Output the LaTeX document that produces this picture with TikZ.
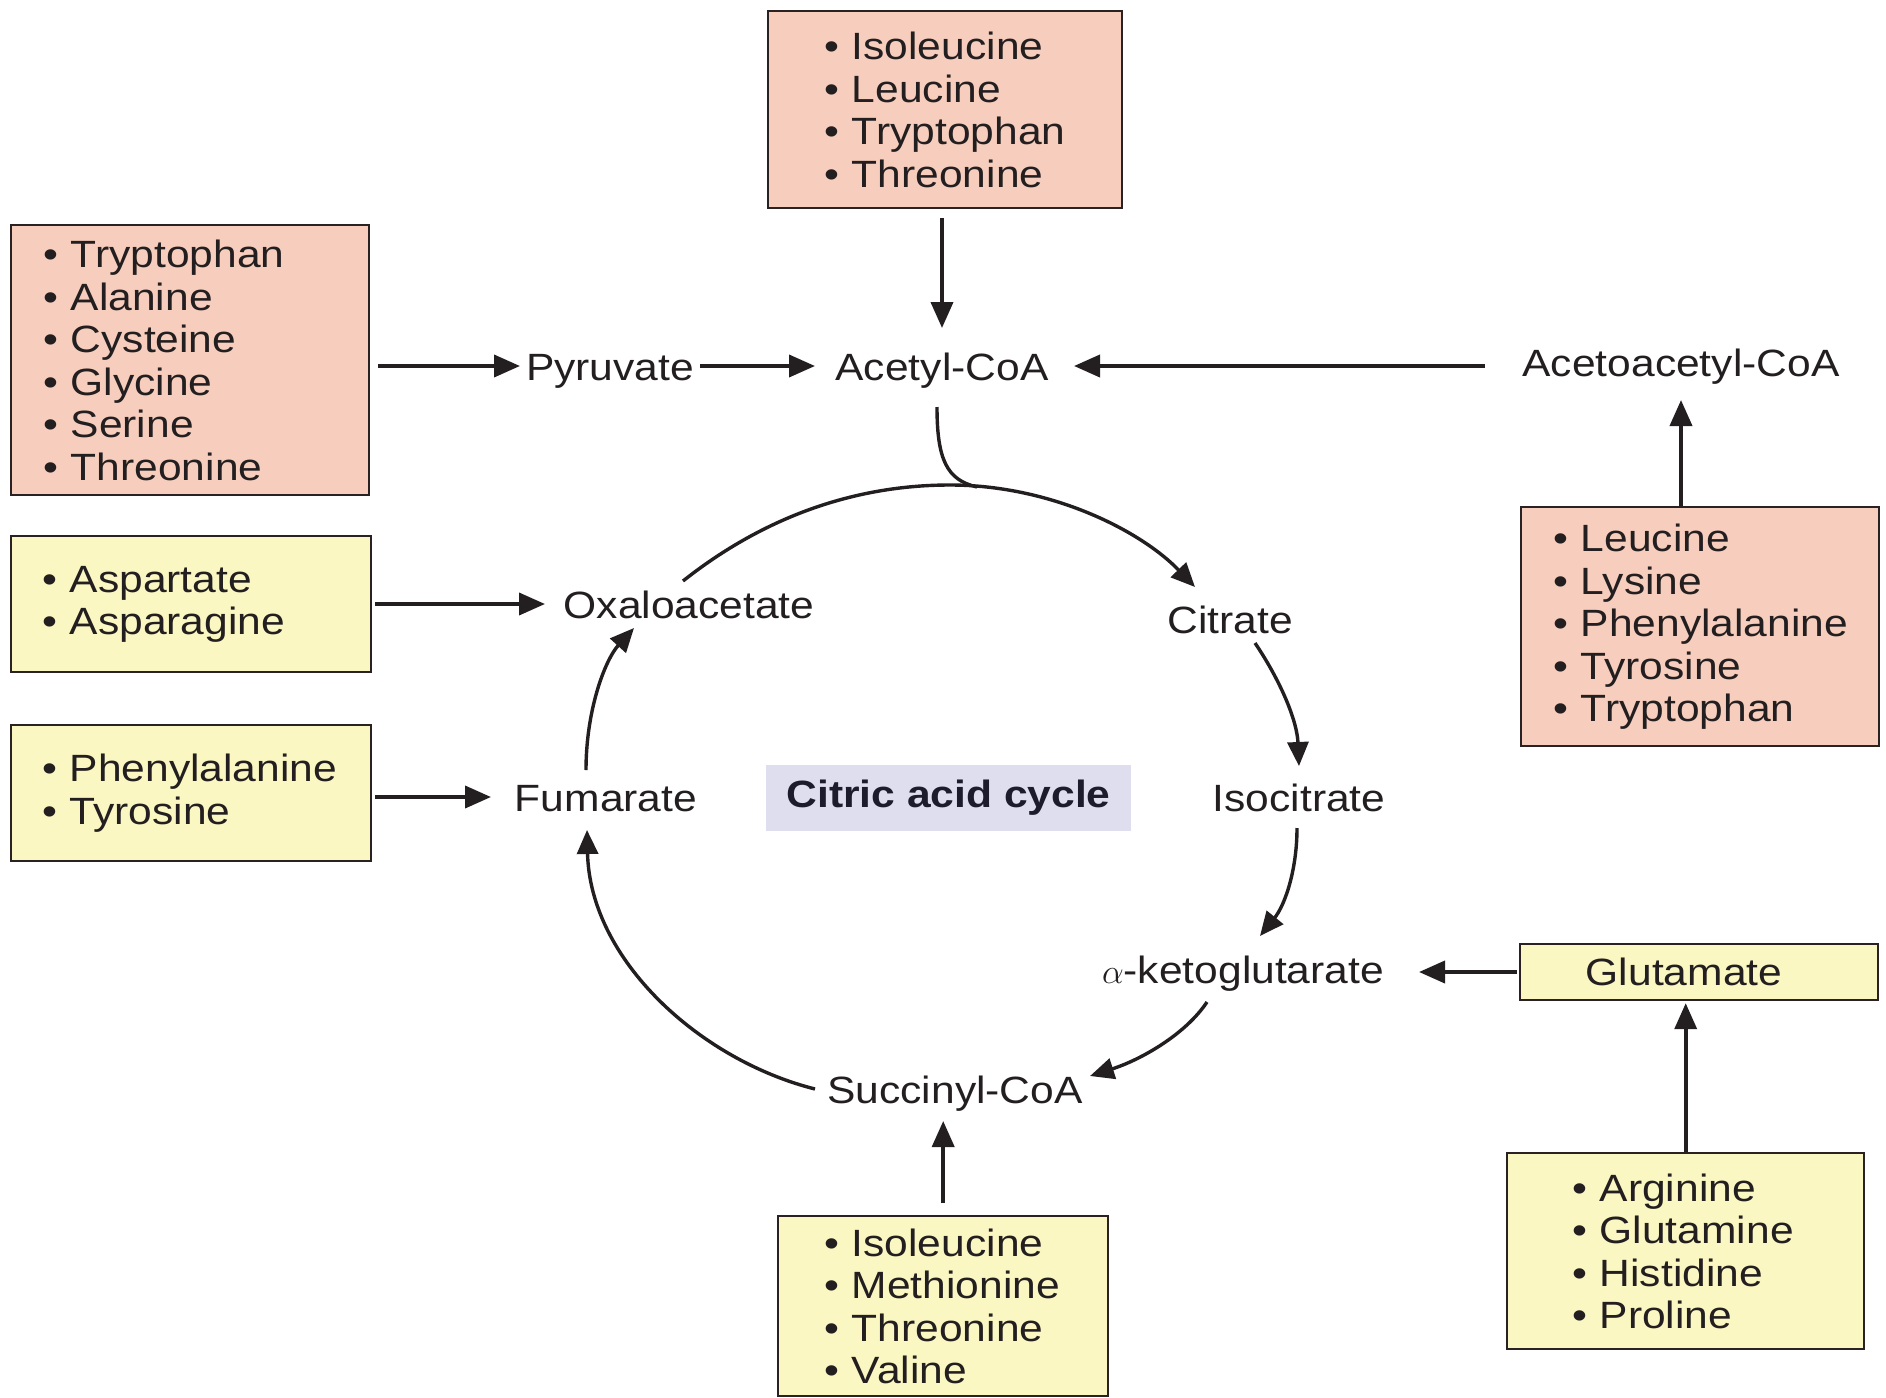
\documentclass[tikz,border=0pt]{standalone}
\usepackage{fontspec}
\setmainfont{Liberation Sans}[FakeStretch=1.12]
\usetikzlibrary{arrows.meta,calc}
\definecolor{pinkfill}{HTML}{F7CEBD}
\definecolor{yellowfill}{HTML}{FBF7C2}
\definecolor{lavender}{HTML}{DEDEEE}
\definecolor{edge}{HTML}{2A2222}
\definecolor{txt}{HTML}{231F20}
\definecolor{navy}{HTML}{1C1C2C}
\begin{document}
\begin{tikzpicture}[x=0.5pt,y=-0.5pt,
  font=\fontsize{19}{21.25}\selectfont,
  lbl/.style={inner sep=0pt, text=txt, text height=14pt, text depth=4pt},
  listbox/.style={draw=edge, line width=1.2pt, inner sep=0pt, anchor=north west, align=left, text=txt},
  pinkbox/.style={listbox, fill=pinkfill},
  yelbox/.style={listbox, fill=yellowfill},
  arr/.style={line width=1.9pt, draw=txt, -{Triangle[length=13pt,width=11pt]}},
  cyc/.style={line width=1.7pt, draw=txt, -{Triangle[length=12pt,width=10.5pt]}},
  plain/.style={line width=1.7pt, draw=txt}
]
\useasboundingbox (0,0) rectangle (1886,1398);

% boxes
\node[pinkbox, text width=177pt, minimum height=98.5pt] (topbox) at (767,10)
  {\leftskip=28pt • Isoleucine\\• Leucine\\• Tryptophan\\• Threonine\par};
\node[pinkbox, text width=179pt, minimum height=135pt] (leftpink) at (10,224)
  {\leftskip=16pt • Tryptophan\\• Alanine\\• Cysteine\\• Glycine\\• Serine\\• Threonine\par};
\node[pinkbox, text width=179pt, minimum height=119.5pt] (rightpink) at (1520,506)
  {\leftskip=16pt • Leucine\\• Lysine\\• Phenylalanine\\• Tyrosine\\• Tryptophan\par};
\node[yelbox, text width=180pt, minimum height=68pt] (aspbox) at (10,535)
  {\leftskip=15.5pt • Aspartate\\• Asparagine\par};
\node[yelbox, text width=180pt, minimum height=68pt] (phebox) at (10,724)
  {\leftskip=15.5pt • Phenylalanine\\• Tyrosine\par};
\node[yelbox, text width=165pt, minimum height=90pt] (botbox) at (777,1215)
  {\leftskip=23pt • Isoleucine\\• Methionine\\• Threonine\\• Valine\par};
\node[yelbox, text width=178.5pt, minimum height=98pt] (brbox) at (1506,1152)
  {\leftskip=32.5pt • Arginine\\• Glutamine\\• Histidine\\• Proline\par};
\node[draw=edge, line width=1.2pt, fill=yellowfill, text=txt, inner sep=0pt,
  minimum width=179pt, minimum height=28pt] (glu) at (1699,972) {\hspace*{-15pt}Glutamate};

% cycle label
\node[fill=lavender, text=navy, inner sep=0pt, minimum width=182.5pt, minimum height=33pt,
  font=\fontsize{19}{21.25}\selectfont\bfseries] (cyclelabel) at (948.5,798) {Citric acid cycle};

% metabolite labels
\node[lbl] (acetyl) at (942,370) {Acetyl-CoA};
\node[lbl] (pyruvate) at (610,370) {Pyruvate};
\node[lbl] (acetoacetyl) at (1681,366) {Acetoacetyl-CoA};
\node[lbl] (oxalo) at (689,608) {Oxaloacetate};
\node[lbl] (fumarate) at (606,801) {Fumarate};
\node[lbl] (citrate) at (1230,623) {Citrate};
\node[lbl] (isocitrate) at (1299,801) {Isocitrate};
\node[lbl] (akg) at (1243,973) {$\alpha$-ketoglutarate};
\node[lbl] (succinyl) at (955,1093) {Succinyl-CoA};

% straight connectors
\draw[arr] ($(acetyl |- topbox.south)+(0,9)$) -- ($(acetyl)+(0,-42)$);
\draw[arr] ($(leftpink.east |- pyruvate)+(8,-4)$) -- ($(pyruvate)+(-90,-4)$);
\draw[arr] ($(pyruvate)+(90,-4)$) -- ($(acetyl)+(-127,-4)$);
\draw[arr] ($(acetoacetyl)+(-196,0)$) -- ($(acetyl)+(132,-4)$);
\draw[arr] (acetoacetyl |- rightpink.north) -- ($(acetoacetyl)+(0,34)$);
\draw[arr] ($(aspbox.east |- oxalo)+(3,-4)$) -- ($(oxalo)+(-144,-4)$);
\draw[arr] ($(phebox.east |- fumarate)+(3,-4)$) -- ($(fumarate)+(-115,-4)$);
\draw[arr] ($(glu.west)+(-2,0)$) -- ($(akg)+(176,-1)$);
\draw[arr] (brbox.north) -- ($(brbox.north |- glu.south)+(0,2)$);
\draw[arr] ($(botbox.north)+(0,-12)$) -- ($(botbox.north |- succinyl)+(0,28)$);

% cycle
\coordinate (peak) at ($(acetyl)+(8,115)$);
\coordinate (join) at ($(acetyl)+(35,117)$);
\draw[cyc] ($(oxalo)+(-6,-27)$) .. controls +(77,-61) and +(-100,0) .. (peak)
  .. controls +(100,0) and +(-55,-57) .. ($(citrate)+(-35,-36)$);
\draw[plain] ($(acetyl)+(-5,37)$) .. controls +(0,53) and +(-30,-7) .. (join);
\draw[cyc] ($(citrate)+(25,20)$) .. controls +(25,37) and +(-2,-46) .. ($(isocitrate)+(0,-35)$);
\draw[cyc] ($(isocitrate)+(-2,27)$) .. controls +(0,42) and +(25,-31) .. ($(akg)+(17,-37)$);
\draw[cyc] ($(akg)+(-36,29)$) .. controls +(-22,33) and +(50,-16) .. ($(succinyl)+(135,-17)$);
\draw[cyc] ($(succinyl)+(-140,-4)$) .. controls +(-115,-29) and +(3,130) .. ($(fumarate)+(-19,29)$);
\draw[cyc] ($(fumarate)+(-20,-31)$) .. controls +(0,-60) and +(-29,32) .. ($(oxalo)+(-55,20)$);
\end{tikzpicture}
\end{document}
